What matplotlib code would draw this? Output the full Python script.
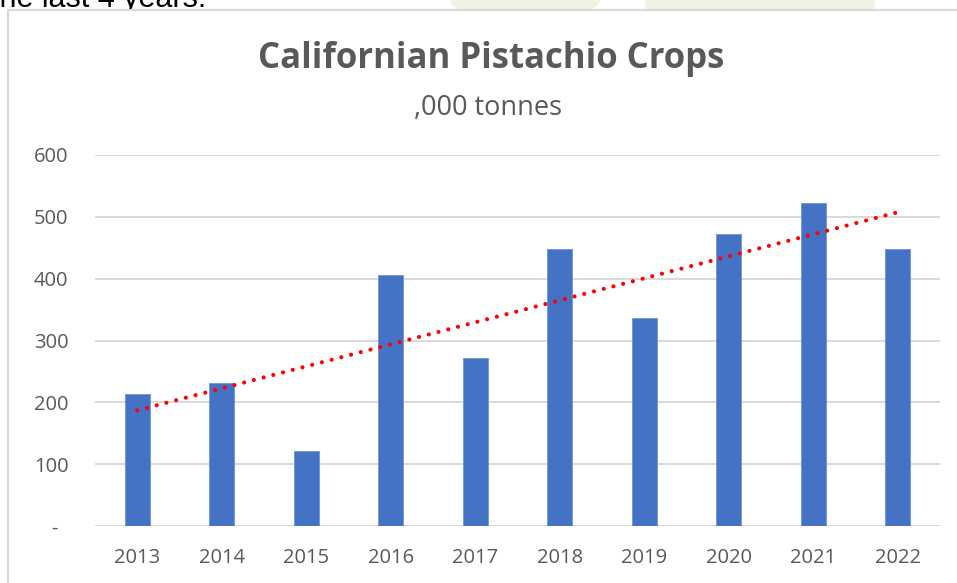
import numpy as np
import matplotlib
matplotlib.use("Agg")
import matplotlib.pyplot as plt
from matplotlib.patches import Rectangle, Ellipse

# Californian pistachio crop, thousand tonnes
years = ["2013", "2014", "2015", "2016", "2017", "2018", "2019", "2020", "2021", "2022"]
crop = [213, 232, 122, 406, 271, 448, 336, 473, 523, 448]
y_ticks = [0, 100, 200, 300, 400, 500, 600]
# accounting-style zero: the dash sits inset from the number column
y_tick_labels = ["-  ", "100", "200", "300", "400", "500", "600"]

W, H = 957, 583
DPI = 100
fig = plt.figure(figsize=(W / DPI, H / DPI), dpi=DPI)
fig.patch.set_facecolor("white")

FONT = "Open Sans"
GREY_TXT = "#595959"
GRID = "#d9d9d9"


def fx(px):
    return px / W


def fy(py):
    return 1 - py / H


# faint page watermark above the chart frame
for cx, cy, w, h in [(525, 0, 150, 40), (760, 5, 230, 60)]:
    fig.patches.append(Ellipse((fx(cx), fy(cy)), fx(w), h / H,
                               transform=fig.transFigure, facecolor="#eef2e2",
                               edgecolor="none", zorder=0))

# tail of the page sentence above the chart
fig.text(fx(-9), fy(7), "the last 4 years.", fontsize=22, family="Liberation Sans",
         color="black", ha="left", va="baseline", zorder=1)

# chart frame (white area with light grey border, running off the right and bottom)
fig.patches.append(Rectangle((fx(8), fy(H + 20)), fx(W + 20), (H + 10) / H,
                             transform=fig.transFigure, facecolor="white",
                             edgecolor=GRID, linewidth=1.6, zorder=2))

ax = fig.add_axes([fx(95), fy(526), fx(940 - 95), (526 - 155) / H], zorder=3)
ax.set_facecolor("none")

x = np.arange(len(years))
ax.bar(x, crop, width=0.3, color="#4472C4", edgecolor="#6f93d6", linewidth=0.6, zorder=3)

# linear trendline
coef = np.polyfit(x, crop, 1)
trend = np.polyval(coef, x)
ax.plot([x[0], x[-1]], [trend[0], trend[-1]], color="#ff0000", linewidth=3.0,
        linestyle=(0, (0.01, 2.4)), dash_capstyle="round", solid_capstyle="round", zorder=4)

ax.set_xlim(-0.5, len(years) - 0.5)
ax.set_ylim(0, 600)
ax.set_yticks(y_ticks)
ax.set_yticklabels(y_tick_labels)
ax.set_xticks(x)
ax.set_xticklabels(years)
ax.yaxis.grid(True, color=GRID, linewidth=1.4, zorder=0)
ax.set_axisbelow(True)
for s in ax.spines.values():
    s.set_visible(False)
ax.tick_params(axis="both", length=0, labelsize=14.5, labelcolor=GREY_TXT)
ax.tick_params(axis="y", pad=19)
ax.tick_params(axis="x", pad=16)
for lab in ax.get_xticklabels() + ax.get_yticklabels():
    lab.set_family(FONT)

fig.text(fx(491), fy(68), "Californian Pistachio Crops", fontsize=25, fontweight="bold",
         family=FONT, color=GREY_TXT, ha="center", va="baseline", zorder=5)
fig.text(fx(488), fy(115), ",000 tonnes", fontsize=19.5, family=FONT,
         color=GREY_TXT, ha="center", va="baseline", zorder=5)

fig.savefig("out.png", dpi=DPI)
